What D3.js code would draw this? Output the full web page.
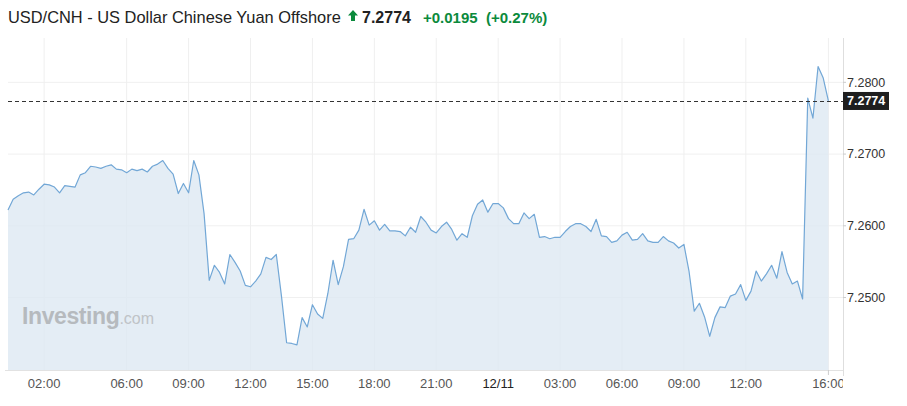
<!DOCTYPE html>
<html><head><meta charset="utf-8">
<script src="https://cdn.jsdelivr.net/npm/d3@7"></script>
<style>html,body{margin:0;padding:0;background:#fff;}svg{display:block;}</style>
</head><body>
<svg id="chart" width="907" height="406"></svg>
<script>
// ---- data ----
const seriesName = "USD/CNH - US Dollar Chinese Yuan Offshore";
const lastPrice = "7.2774";
const change = "+0.0195";
const changePct = "(+0.27%)";
const startTime = new Date(2024, 11, 10, 0, 15); // first 15-minute bar
const stepMinutes = 15;
const prices = [
  7.2622, 7.2637, 7.2642, 7.2646, 7.2647, 7.2643, 7.2651, 7.2658, 7.2657, 7.2654,
  7.2646, 7.2656, 7.2655, 7.2654, 7.2671, 7.2674, 7.2683, 7.2682, 7.2680, 7.2683,
  7.2685, 7.2679, 7.2678, 7.2674, 7.2679, 7.2677, 7.2679, 7.2675, 7.2683, 7.2686,
  7.2691, 7.2680, 7.2672, 7.2645, 7.2659, 7.2646, 7.2691, 7.2671, 7.2617, 7.2524,
  7.2545, 7.2535, 7.2519, 7.2560, 7.2549, 7.2537, 7.2517, 7.2515, 7.2523, 7.2533,
  7.2556, 7.2553, 7.2560, 7.2502, 7.2437, 7.2436, 7.2434, 7.2472, 7.2459, 7.2490,
  7.2477, 7.2471, 7.2506, 7.2552, 7.2518, 7.2543, 7.2581, 7.2582, 7.2594, 7.2623,
  7.2601, 7.2607, 7.2594, 7.2602, 7.2593, 7.2593, 7.2592, 7.2586, 7.2598, 7.2591,
  7.2613, 7.2605, 7.2594, 7.2590, 7.2599, 7.2605, 7.2595, 7.2580, 7.2589, 7.2584,
  7.2614, 7.2630, 7.2636, 7.2619, 7.2631, 7.2631, 7.2625, 7.2610, 7.2603, 7.2603,
  7.2618, 7.2610, 7.2616, 7.2584, 7.2585, 7.2582, 7.2584, 7.2584, 7.2592, 7.2599,
  7.2603, 7.2603, 7.2599, 7.2592, 7.2609, 7.2586, 7.2585, 7.2577, 7.2579, 7.2587,
  7.2591, 7.2580, 7.2581, 7.2589, 7.2579, 7.2577, 7.2577, 7.2585, 7.2579, 7.2576,
  7.2569, 7.2574, 7.2536, 7.2481, 7.2492, 7.2473, 7.2446, 7.2472, 7.2487, 7.2486,
  7.2502, 7.2505, 7.2518, 7.2496, 7.2509, 7.2537, 7.2523, 7.2533, 7.2545, 7.2527,
  7.2564, 7.2535, 7.2519, 7.2523, 7.2498, 7.2778, 7.2750, 7.2822, 7.2806, 7.2774
];
const yTicks = [7.25, 7.26, 7.27, 7.28];
const xTickHours = [2, 6, 9, 12, 15, 18, 21, 24, 27, 30, 33, 36, 40]; // hours from 12/10 00:00
const xTickLabels = ["02:00","06:00","09:00","12:00","15:00","18:00","21:00","12/11","03:00","06:00","09:00","12:00","16:00"];

// ---- build ----
const data = prices.map((v, i) => ({ t: new Date(startTime.getTime() + i * stepMinutes * 60000), v }));
const day0 = new Date(2024, 11, 10, 0, 0);
const ticks = xTickHours.map((h, i) => ({ t: new Date(day0.getTime() + h * 3600000), label: xTickLabels[i] }));

const svg = d3.select("#chart");
const L = 8, R = 843, T = 38, B = 370;
const x = d3.scaleTime().domain([data[0].t, data[data.length - 1].t]).range([L, 828.4]);
const y = d3.scaleLinear().domain([7.2399, 7.2859]).range([B, 40]);

// grid
const g = svg.append("g");
g.selectAll("line.hg").data(yTicks).join("line")
  .attr("x1", L).attr("x2", R).attr("y1", d => y(d)).attr("y2", d => y(d))
  .attr("stroke", "#f0f0f0").attr("stroke-width", 1);
g.selectAll("line.vg").data(ticks).join("line")
  .attr("x1", d => x(d.t)).attr("x2", d => x(d.t)).attr("y1", T).attr("y2", B)
  .attr("stroke", "#efefef").attr("stroke-width", 1);

// area + line
const area = d3.area().x(d => x(d.t)).y0(B).y1(d => y(d.v));
const line = d3.line().x(d => x(d.t)).y(d => y(d.v));
svg.append("path").datum(data).attr("d", area).attr("fill", "#dde8f2").attr("fill-opacity", 0.78);

// watermark
const wm = svg.append("text").attr("x", 22).attr("y", 324)
  .attr("font-family", "Liberation Sans, Arial, sans-serif");
wm.append("tspan").text("Investing").attr("font-size", 23).attr("font-weight", "bold").attr("fill", "#b6babe").attr("letter-spacing", -0.4);
wm.append("tspan").text(".com").attr("font-size", 16).attr("fill", "#bfc3c7");

svg.append("path").datum(data).attr("d", line).attr("fill", "none")
  .attr("stroke", "#72a7d6").attr("stroke-width", 1.2).attr("stroke-linejoin", "round");

// axes lines
svg.append("line").attr("x1", 5).attr("x2", R).attr("y1", B + 0.5).attr("y2", B + 0.5).attr("stroke", "#e2e2e2");
svg.append("line").attr("x1", R + 0.5).attr("x2", R + 0.5).attr("y1", T).attr("y2", B + 6).attr("stroke", "#dedede");

// right axis labels
const ra = svg.append("g").attr("font-family", "Liberation Sans, Arial, sans-serif").attr("font-size", 12.5).attr("fill", "#333");
ra.selectAll("text").data(yTicks).join("text")
  .attr("x", 847).attr("y", d => y(d)).attr("dy", "0.35em").text(d => d3.format(".4f")(d));
ra.selectAll("line").data(yTicks).join("line")
  .attr("x1", R).attr("x2", R + 3).attr("y1", d => y(d)).attr("y2", d => y(d)).attr("stroke", "#ccc");

// bottom labels (clipped at right axis)
svg.append("clipPath").attr("id", "bclip").append("rect").attr("x", 0).attr("y", B).attr("width", R).attr("height", 40);
const ba = svg.append("g").attr("clip-path", "url(#bclip)")
  .attr("font-family", "Liberation Sans Narrow, Arial Narrow, sans-serif").attr("font-size", 13);
ba.selectAll("text").data(ticks).join("text")
  .attr("x", d => x(d.t)).attr("y", 388).attr("text-anchor", "middle")
  .attr("fill", d => d.label.includes("/") ? "#222" : "#555")
  .text(d => d.label);
svg.append("line").attr("x1", x(ticks[ticks.length - 1].t)).attr("x2", x(ticks[ticks.length - 1].t))
  .attr("y1", B).attr("y2", B + 5).attr("stroke", "#ccc");

// last price dashed line + tag
const lp = +lastPrice;
svg.append("line").attr("x1", L).attr("x2", R).attr("y1", Math.round(y(lp)) + 0.5).attr("y2", Math.round(y(lp)) + 0.5)
  .attr("stroke", "#333").attr("stroke-dasharray", "4,3").attr("stroke-width", 1);
svg.append("rect").attr("x", R).attr("y", y(lp) - 9).attr("width", 46).attr("height", 18).attr("fill", "#1e1e1e");
svg.append("text").attr("x", 847).attr("y", y(lp)).attr("dy", "0.36em")
  .attr("font-family", "Liberation Sans, Arial, sans-serif").attr("font-size", 12.5).attr("font-weight", "bold")
  .attr("fill", "#fff").text(lastPrice);

// title
const green = "#0b8a3c";
svg.append("text").attr("x", 8).attr("y", 23).attr("font-family", "Liberation Sans, Arial, sans-serif")
  .attr("font-size", 16.4).attr("fill", "#222").text(seriesName);
svg.append("path").attr("d", "M353,10 L358,15.5 L355,15.5 L355,21 L351,21 L351,15.5 L348,15.5 Z").attr("fill", green);
svg.append("text").attr("x", 362).attr("y", 23).attr("font-family", "Liberation Sans, Arial, sans-serif")
  .attr("font-size", 16).attr("font-weight", "bold").attr("fill", "#222").text(lastPrice);
svg.append("text").attr("x", 423).attr("y", 23).attr("font-family", "Liberation Sans, Arial, sans-serif")
  .attr("font-size", 15).attr("font-weight", "bold").attr("fill", green).text(change);
svg.append("text").attr("x", 486).attr("y", 23).attr("font-family", "Liberation Sans, Arial, sans-serif")
  .attr("font-size", 15).attr("font-weight", "bold").attr("fill", green).text(changePct);
</script>
</body></html>
